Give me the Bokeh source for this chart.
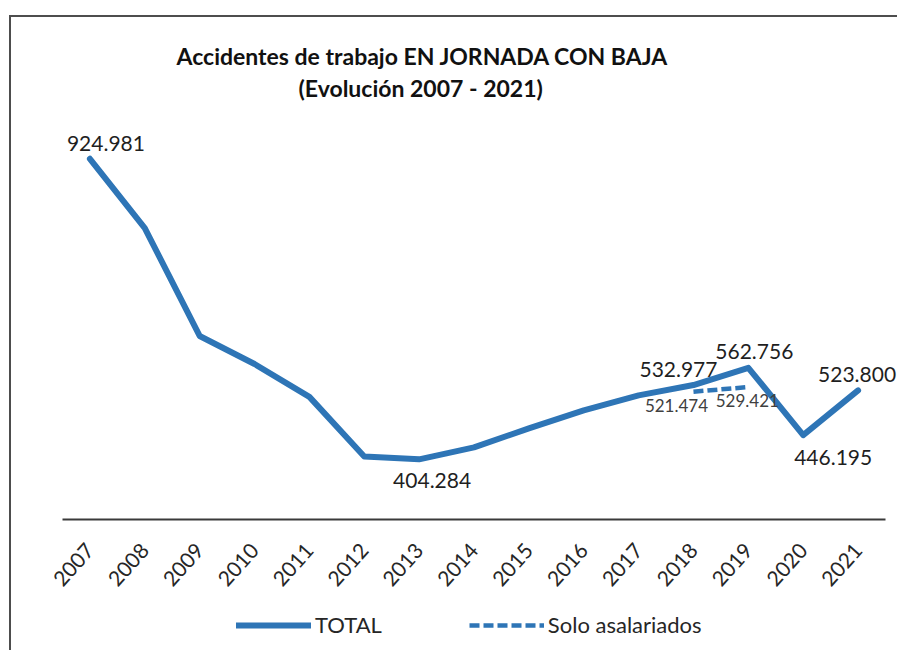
from bokeh.plotting import figure
from bokeh.models import (Range1d, Title, Legend, LegendItem,
                          ColumnDataSource, FixedTicker)
from bokeh.core.properties import value
from bokeh.embed import file_html
from bokeh.resources import INLINE

# ---- data ----
years = [2007, 2008, 2009, 2010, 2011, 2012, 2013, 2014,
         2015, 2016, 2017, 2018, 2019, 2020, 2021]
total = [924981, 805000, 618000, 569500, 512500, 409000, 404284, 425000,
         458000, 489000, 515000, 532977, 562756, 446195, 523800]
asal_years = [2018, 2019]
asalariados = [521474, 529421]
labeled_years = [2007, 2013, 2018, 2019, 2020, 2021]

title1 = "Accidentes de trabajo EN JORNADA CON BAJA"
title2 = "(Evolución 2007 - 2021)"

def fmt(v):
    return f"{v:,}".replace(",", ".")

# ---- styles / layout ----
BLUE = "#2E75B6"
FONT = "Lato"
lbl_dx = [16, 13, -15, 6, 30, -1]
lbl_dy = [-15, 21, -16, -16, 22, -16]
asal_dx = [-17, -1]
asal_dy = [14, 13]

AXIS_Y = 300000          # value where the category axis sits
Y_TOP = 1000000
Y_BOTTOM = 69554          # lets the frame run down to the legend
X_START, X_END = 2005.571, 2021.755

p = figure(x_range=Range1d(X_START, X_END),
           y_range=Range1d(Y_BOTTOM, Y_TOP),
           width=888, height=635, output_backend="svg", toolbar_location=None,
           min_border_left=0, min_border_right=0, min_border_top=98,
           min_border_bottom=0, outline_line_color=None)
p.styles = {"border-top": "2px solid #4d4d4d", "border-left": "2px solid #4d4d4d",
            "margin-top": "15px", "margin-left": "9px"}

p.yaxis.visible = False
p.xgrid.grid_line_color = None
p.ygrid.grid_line_color = None
xa = p.xaxis[0]
xa.fixed_location = AXIS_Y
xa.bounds = (years[0] - 0.5, years[-1] + 0.5)
xa.ticker = FixedTicker(ticks=years)
xa.axis_line_color = "#3a3a3a"
xa.axis_line_width = 2
xa.major_tick_line_color = None
xa.minor_tick_line_color = None
xa.major_label_orientation = 0.84
xa.major_label_standoff = 21
xa.major_label_text_font = FONT
xa.major_label_text_font_size = "21px"
xa.major_label_text_color = "#262626"

r_total = p.line(years, total, line_color=BLUE, line_width=6,
                 line_join="round", line_cap="round")
r_asal = p.line(asal_years, asalariados, line_color=BLUE, line_width=4.5,
                line_dash="10 4")

lbl_vals = [total[years.index(y)] for y in labeled_years]
src = ColumnDataSource(dict(x=labeled_years, y=lbl_vals,
                            t=[fmt(v) for v in lbl_vals],
                            dx=lbl_dx, dy=lbl_dy))
p.text(x="x", y="y", text="t", x_offset="dx", y_offset="dy", source=src,
       text_font=value(FONT), text_font_size="21px", text_color="#1f1f1f",
       text_align="center", text_baseline="alphabetic")

src2 = ColumnDataSource(dict(x=asal_years, y=asalariados,
                             t=[fmt(v) for v in asalariados],
                             dx=asal_dx, dy=asal_dy))
p.text(x="x", y="y", text="t", x_offset="dx", y_offset="dy", source=src2,
       text_font=value(FONT), text_font_size="17px", text_color="#404040",
       text_align="center", text_baseline="alphabetic")

t2 = Title(text=title2, align="left", offset=287, text_font=FONT,
           text_font_size="23px", text_font_style="bold", text_color="#111111",
           standoff=27)
t1 = Title(text=title1, align="left", offset=165, text_font=FONT,
           text_font_size="23px", text_font_style="bold", text_color="#111111",
           standoff=-22)
p.add_layout(t2, "above")
p.add_layout(t1, "above")

legend = Legend(items=[LegendItem(label="TOTAL", renderers=[r_total]),
                       LegendItem(label="Solo asalariados", renderers=[r_asal])],
                orientation="horizontal", location=(225, 14),
                glyph_width=75, glyph_height=20, label_standoff=4, spacing=87,
                label_text_font=FONT, label_text_font_size="22px",
                label_text_color="#262626", border_line_color=None,
                background_fill_alpha=0, margin=0, padding=4)
p.add_layout(legend)

open("out.html", "w").write(file_html(p, INLINE))
